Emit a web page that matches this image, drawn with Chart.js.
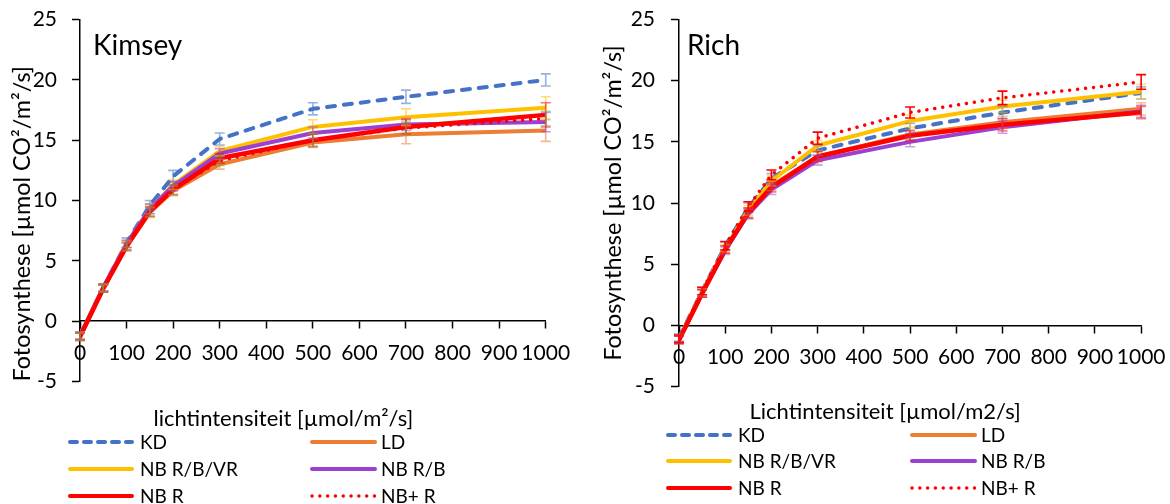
<!DOCTYPE html>
<html>
<head>
<meta charset="utf-8">
<script src="https://cdn.jsdelivr.net/npm/chart.js@4.4.0/dist/chart.umd.min.js"></script>
<style>
  body { margin: 0; background: #fff; font-family: Lato, sans-serif; color: #000; }
  #page { position: relative; width: 1170px; height: 504px; overflow: hidden; background: #fff; }
  .panel { position: absolute; }
  .txt { position: absolute; white-space: nowrap; font-size: 19px; line-height: 24px; }
  .axisTitle { position: absolute; white-space: nowrap; font-size: 22px; line-height: 26px; }
  .panelName { position: absolute; white-space: nowrap; font-size: 28px; line-height: 32px; }
  svg { position: absolute; overflow: visible; }
</style>
</head>
<body>
<div id="page">
  <div class="panel" style="left:0; top:-8px"><canvas id="kimseyChart" width="585" height="417"></canvas></div>
  <div class="panel" style="left:585px; top:-9px"><canvas id="richChart" width="593" height="424"></canvas></div>
</div>
<script>
// Light intensity steps (x values)
const lightLevels = [0, 50, 100, 150, 200, 300, 500, 700, 1000];
const seriesNames = ['KD', 'LD', 'NB R/B/VR', 'NB R/B', 'NB R', 'NB+ R'];

// Kimsey - mean photosynthesis per series (same order as seriesNames)
const kimseyKD      = [-1.2, 2.8, 6.5, 9.6, 12.0, 15.1, 17.6, 18.6, 20.0];
const kimseyLD      = [-1.3, 2.7, 6.2, 9.0, 10.8, 13.0, 14.8, 15.5, 15.8];
const kimseyRBVR    = [-1.2, 2.8, 6.4, 9.3, 11.3, 14.1, 16.1, 16.9, 17.7];
const kimseyRB      = [-1.2, 2.8, 6.4, 9.3, 11.2, 13.9, 15.6, 16.3, 16.5];
const kimseyR       = [-1.3, 2.7, 6.2, 9.1, 10.9, 13.5, 15.0, 16.1, 17.1];
const kimseyPlusR   = [-1.3, 2.7, 6.2, 9.1, 10.9, 13.3, 15.0, 16.0, 16.8];
// Kimsey - error (+/-)
const kimseyErrKD    = [0.3, 0.3, 0.4, 0.4, 0.5, 0.5, 0.5, 0.55, 0.5];
const kimseyErrLD    = [0.3, 0.3, 0.4, 0.4, 0.4, 0.4, 0.4, 0.8, 0.9];
const kimseyErrRBVR  = [0.3, 0.3, 0.3, 0.4, 0.4, 0.4, 0.6, 0.7, 0.9];
const kimseyErrRB    = [0.3, 0.3, 0.3, 0.4, 0.4, 0.4, 0.5, 0.5, 0.8];
const kimseyErrR     = [0.3, 0.3, 0.3, 0.4, 0.4, 0.4, 0.5, 0.6, 1.0];
const kimseyErrPlusR = [0.3, 0.3, 0.3, 0.4, 0.4, 0.4, 0.55, 0.5, 0.6];

// Rich - mean photosynthesis per series
const richKD      = [-1.0, 2.8, 6.5, 9.6, 12.0, 14.3, 16.1, 17.4, 19.0];
const richLD      = [-1.2, 2.6, 6.2, 9.2, 11.4, 13.8, 15.6, 16.6, 17.7];
const richRBVR    = [-1.1, 2.7, 6.3, 9.4, 11.8, 14.7, 16.7, 17.9, 19.1];
const richRB      = [-1.2, 2.6, 6.1, 9.1, 11.1, 13.5, 15.0, 16.2, 17.5];
const richR       = [-1.2, 2.6, 6.2, 9.2, 11.3, 13.8, 15.5, 16.4, 17.4];
const richPlusR   = [-1.1, 2.8, 6.5, 9.7, 12.3, 15.3, 17.4, 18.6, 19.9];
// Rich - error (+/-)
const richErrKD    = [0.3, 0.3, 0.3, 0.4, 0.4, 0.4, 0.4, 0.5, 0.5];
const richErrLD    = [0.3, 0.3, 0.3, 0.4, 0.4, 0.4, 0.4, 0.5, 0.5];
const richErrRBVR  = [0.3, 0.3, 0.3, 0.4, 0.4, 0.4, 0.5, 0.5, 0.6];
const richErrRB    = [0.3, 0.3, 0.3, 0.4, 0.4, 0.4, 0.4, 0.5, 0.5];
const richErrR     = [0.3, 0.3, 0.3, 0.4, 0.4, 0.4, 0.4, 0.5, 0.5];
const richErrPlusR = [0.3, 0.3, 0.35, 0.4, 0.4, 0.5, 0.45, 0.55, 0.6];

// Styles
const lineColors = ['#4472C4', '#ED7D31', '#FFC000', '#9B40D0', '#FF0000', '#FF0000'];
const lineDashes = [[8, 9], [], [], [], [], [0.01, 8]];
const lineWidths = [4, 4, 4, 4, 4.5, 3.5];
const legendDashes = ['7 7', '', '', '', '', '0.01 7.8'];
const kimseyErrColors = ['rgba(68,114,196,0.55)', 'rgba(237,125,49,0.55)', 'rgba(255,192,0,0.55)',
                         'rgba(155,64,208,0.55)', 'rgba(255,0,0,0.55)', 'rgba(112,173,71,0.55)'];
const richErrColors = ['rgba(68,114,196,0.5)', 'rgba(237,125,49,0.5)', 'rgba(255,192,0,0.5)',
                       'rgba(155,64,208,0.5)', 'rgba(255,0,0,0.5)', '#FF0000'];

const FONT = 'Lato';

// draws the error bars from the library's scales
const errorBars = {
    id: 'errorBars',
    afterDatasetsDraw(chart, args, opts) {
        const { ctx, scales: { x, y } } = chart;
        ctx.save();
        ctx.lineWidth = 1.6;
        chart.data.datasets.forEach((ds, i) => {
            ctx.strokeStyle = opts.colors[i];
            ds.data.forEach((p, j) => {
                const e = opts.errors[i][j];
                const px = x.getPixelForValue(p.x);
                const top = y.getPixelForValue(p.y + e);
                const bot = y.getPixelForValue(p.y - e);
                ctx.beginPath();
                ctx.moveTo(px, top); ctx.lineTo(px, bot);
                ctx.moveTo(px - 5, top); ctx.lineTo(px + 5, top);
                ctx.moveTo(px - 5, bot); ctx.lineTo(px + 5, bot);
                ctx.stroke();
            });
        });
        ctx.restore();
    }
};

function makeChart(canvasId, means, errors, errColors, cfg) {
    const datasets = means.map((vals, i) => ({
        label: seriesNames[i],
        data: lightLevels.map((lx, j) => ({ x: lx, y: vals[j] })),
        borderColor: lineColors[i],
        borderWidth: lineWidths[i],
        borderDash: lineDashes[i],
        borderCapStyle: 'round',
        borderJoinStyle: 'round',
        pointRadius: 0,
        tension: 0,
        fill: false,
        order: means.length - i
    }));

    return new Chart(document.getElementById(canvasId), {
        type: 'line',
        data: { datasets },
        plugins: [errorBars],
        options: {
            responsive: false,
            animation: false,
            layout: { padding: { left: 0, top: 0, right: cfg.padRight, bottom: 0 } },
            plugins: {
                legend: { display: false },
                tooltip: { enabled: false },
                errorBars: { errors, colors: errColors }
            },
            scales: {
                x: {
                    type: 'linear',
                    min: 0,
                    max: 1000,
                    position: { y: 0 },
                    ticks: { stepSize: 100, autoSkip: false, maxRotation: 0, color: '#000', padding: 12.5,
                             font: { family: FONT, size: 21 },
                             callback: (v) => String(v) },
                    grid: { drawOnChartArea: false, drawTicks: true, tickLength: 7, color: '#000', tickWidth: 1.5 },
                    border: { color: '#000', width: 1.5 }
                },
                y: {
                    min: -5,
                    max: 25,
                    ticks: { stepSize: 5, color: '#000', padding: cfg.tickPad, font: { family: FONT, size: 21 } },
                    grid: { drawOnChartArea: false, drawTicks: true, tickLength: 8, color: '#000', tickWidth: 1.5 },
                    border: { color: '#000', width: 1.5 },
                    title: {
                        display: true,
                        text: 'Fotosynthese [µmol CO²/m²/s]',
                        color: '#000',
                        align: cfg.titleAlign,
                        padding: { top: cfg.titlePad, bottom: 0 },
                        font: { family: FONT, size: 23.4 }
                    },
                    afterFit(scale) { scale.width = cfg.axisWidth; }
                }
            }
        }
    });
}

makeChart('kimseyChart',
    [kimseyKD, kimseyLD, kimseyRBVR, kimseyRB, kimseyR, kimseyPlusR],
    [kimseyErrKD, kimseyErrLD, kimseyErrRBVR, kimseyErrRB, kimseyErrR, kimseyErrPlusR],
    kimseyErrColors,
    { padRight: 39.3, tickPad: 15, axisWidth: 80, titlePad: 8, titleAlign: 'start' });

makeChart('richChart',
    [richKD, richLD, richRBVR, richRB, richR, richPlusR],
    [richErrKD, richErrLD, richErrRBVR, richErrRB, richErrR, richErrPlusR],
    richErrColors,
    { padRight: 0, tickPad: 16, axisWidth: 94, titlePad: 14, titleAlign: 'center' });

// Text outside the plot: panel names, x-axis titles and legends
const page = document.getElementById('page');

function addText(cls, text, left, centerY, alignCenter) {
    const d = document.createElement('div');
    d.className = cls;
    d.textContent = text;
    page.appendChild(d);
    const h = d.offsetHeight;
    d.style.top = (centerY - h / 2) + 'px';
    d.style.left = (alignCenter ? left - d.offsetWidth / 2 : left) + 'px';
}

function addLegend(cols, rows) {
    seriesNames.forEach((name, i) => {
        const c = cols[i % 2];
        const y = rows[Math.floor(i / 2)];
        const svg = `<svg width="${c.w}" height="8" style="left:${c.x}px;top:${y - 4}px">` +
            `<line x1="2" y1="4" x2="${c.w - 2}" y2="4" stroke="${lineColors[i]}" stroke-width="${i === 5 ? 3.5 : 4}" ` +
            `stroke-linecap="round" stroke-dasharray="${legendDashes[i]}"/></svg>`;
        page.insertAdjacentHTML('beforeend', svg);
        addText('txt', name, c.tx, y, false);
    });
}

addText('panelName', 'Kimsey', 93, 44, false);
addText('panelName', 'Rich', 687, 44, false);
addText('axisTitle', 'lichtintensiteit [µmol/m²/s]', 283.5, 418, true);
addText('axisTitle', 'Lichtintensiteit [µmol/m2/s]', 885, 410.5, true);

addLegend([{ x: 68, w: 66, tx: 140 }, { x: 310, w: 67, tx: 381 }], [441.7, 469, 496]);
addLegend([{ x: 666, w: 66, tx: 738 }, { x: 910, w: 67, tx: 981 }], [435, 461, 488]);
</script>
</body>
</html>
